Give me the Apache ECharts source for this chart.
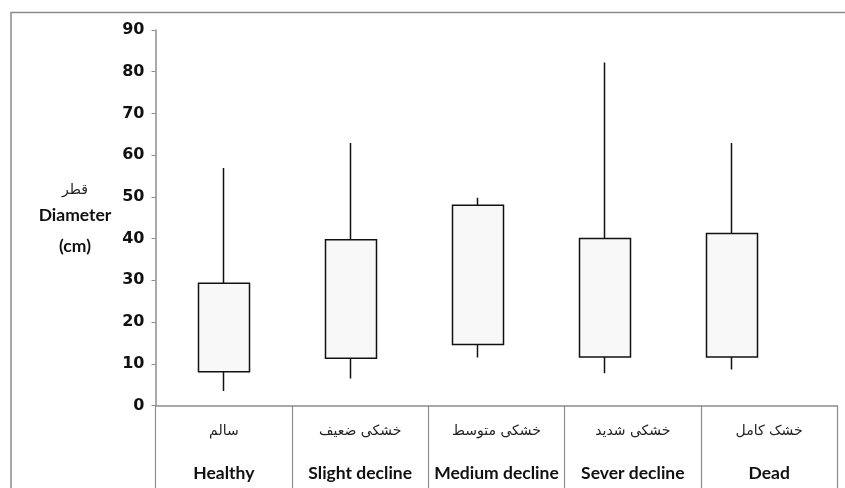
<!DOCTYPE html>
<html>
<head>
<meta charset="utf-8">
<script src="https://cdn.jsdelivr.net/npm/echarts@6/dist/echarts.min.js"></script>
<style>html,body{margin:0;padding:0;background:#fff}#c{width:845px;height:488px}</style>
</head>
<body>
<div id="c"></div>
<script>
const categoriesEn = ['Healthy', 'Slight decline', 'Medium decline', 'Sever decline', 'Dead'];
const categoriesFa = ['سالم', 'خشکی ضعیف', 'خشکی متوسط', 'خشکی شدید', 'خشک کامل'];
// box bottom (Q1), box top (Q3), whisker min, whisker max
const q1 = [8.1, 11.3, 14.6, 11.6, 11.6];
const q3 = [29.3, 39.7, 48.0, 40.0, 41.2];
const minV = [3.5, 6.5, 11.5, 7.7, 8.6];
const maxV = [56.9, 62.9, 49.8, 82.2, 62.9];
const yTicks = [0, 10, 20, 30, 40, 50, 60, 70, 80, 90];

const candleData = categoriesEn.map((c, i) => [q1[i], q3[i], minV[i], maxV[i]]);

const chart = echarts.init(document.getElementById('c'));
const gray = '#8c8c8c';
chart.setOption({
  animation: false,
  grid: [
    {left: 160.5, width: 635, top: 30, height: 375.5},
    {left: 155.7, width: 681.6, top: 30, height: 375.5}
  ],
  xAxis: [
    {type: 'category', gridIndex: 0, data: categoriesEn, show: false},
    {type: 'category', gridIndex: 1, data: categoriesEn,
     axisLine: {show: true, lineStyle: {color: gray, width: 1.5}},
     axisTick: {show: true, length: 83, lineStyle: {color: gray, width: 1.2}},
     axisLabel: {
       margin: 5,
       interval: 0,
       formatter: (v, i) => '{fa|' + categoriesFa[i] + '}\n{en|' + v + '}',
       rich: {
         fa: {fontFamily: 'DejaVu Sans', fontSize: 14, color: '#222', lineHeight: 42},
         en: {fontFamily: 'Lato', fontWeight: 'bold', fontSize: 17.5, color: '#111', lineHeight: 42}
       }
     }}
  ],
  yAxis: [
    {type: 'value', gridIndex: 0, min: 0, max: 90, interval: 10, offset: 5,
     axisLine: {show: true, lineStyle: {color: gray, width: 1.5}},
     axisTick: {show: true, length: 4, lineStyle: {color: gray}},
     splitLine: {show: false},
     axisLabel: {margin: 11, color: '#111', fontFamily: 'DejaVu Sans', fontWeight: 'bold', fontSize: 16,
       formatter: v => yTicks.includes(v) ? String(v) : ''}},
    {type: 'value', gridIndex: 1, min: 0, max: 90, show: false}
  ],
  series: [{
    type: 'candlestick',
    xAxisIndex: 0, yAxisIndex: 0,
    barWidth: 51,
    data: candleData,
    itemStyle: {color: '#f8f8f8', color0: '#f8f8f8', borderColor: '#111', borderColor0: '#111', borderWidth: 1.5}
  }],
  graphic: [
    {type: 'rect', shape: {x: 11, y: 12.5, width: 900, height: 600}, style: {fill: 'none', stroke: gray, lineWidth: 1.5}, silent: true},
    {type: 'text', x: 75, y: 190, style: {text: 'قطر', fontFamily: 'DejaVu Sans', fontSize: 14, fill: '#222', textAlign: 'center', textVerticalAlign: 'middle'}},
    {type: 'text', x: 75, y: 215, style: {text: 'Diameter', fontFamily: 'Lato', fontWeight: 'bold', fontSize: 17.5, fill: '#111', textAlign: 'center', textVerticalAlign: 'middle'}},
    {type: 'text', x: 75, y: 246.5, style: {text: '(cm)', fontFamily: 'Lato', fontWeight: 'bold', fontSize: 17.5, fill: '#111', textAlign: 'center', textVerticalAlign: 'middle'}}
  ]
});
</script>
</body>
</html>
